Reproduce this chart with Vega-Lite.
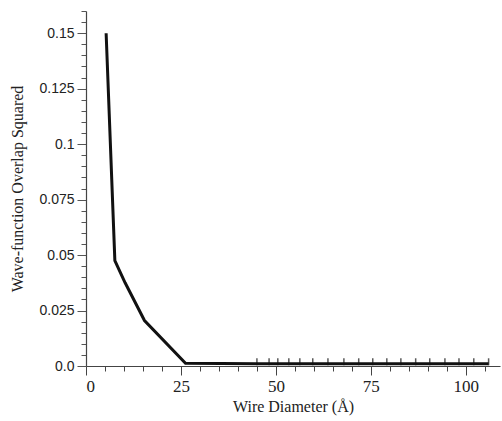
{
  "$schema": "https://vega.github.io/schema/vega-lite/v6.json",
  "autosize": "none",
  "width": 414,
  "height": 355,
  "padding": {"left": 86, "top": 11, "right": 2, "bottom": 55},
  "background": "white",
  "config": {"view": {"stroke": null}},
  "data": {"values": [
    {"x": 5.3, "y": 0.150},
    {"x": 7.6, "y": 0.0475},
    {"x": 10.3, "y": 0.0375},
    {"x": 15.4, "y": 0.0205},
    {"x": 26.2, "y": 0.0012},
    {"x": 45.0, "y": 0.0010},
    {"x": 48.2, "y": 0.0010},
    {"x": 50.5, "y": 0.0010},
    {"x": 53.4, "y": 0.0010},
    {"x": 56.3, "y": 0.0010},
    {"x": 59.7, "y": 0.0010},
    {"x": 63.7, "y": 0.0010},
    {"x": 67.9, "y": 0.0010},
    {"x": 71.8, "y": 0.0010},
    {"x": 75.5, "y": 0.0010},
    {"x": 79.2, "y": 0.0010},
    {"x": 82.9, "y": 0.0010},
    {"x": 86.8, "y": 0.0010},
    {"x": 90.5, "y": 0.0010},
    {"x": 94.5, "y": 0.0010},
    {"x": 98.2, "y": 0.0010},
    {"x": 102.1, "y": 0.0010},
    {"x": 106.0, "y": 0.0010}
  ]},
  "encoding": {
    "x": {
      "field": "x", "type": "quantitative",
      "scale": {"domain": [0, 109], "nice": false, "zero": false},
      "axis": {
        "title": "Wire Diameter (Å)",
        "titleFont": "Liberation Serif", "titleFontSize": 16, "titleFontWeight": "normal", "titleColor": "#222",
        "titlePadding": 4,
        "values": [0,5,10,15,20,25,30,35,40,45,50,55,60,65,70,75,80,85,90,95,100,105],
        "labelExpr": "datum.value % 25 === 0 ? datum.label : ''",
        "labelFont": "Liberation Serif", "labelFontSize": 17, "labelColor": "#222",
        "labelPadding": 3,
        "tickSize": {"condition": {"test": "datum.value % 25 === 0", "value": 9}, "value": 5},
        "tickColor": "#444", "tickWidth": 1,
        "domainColor": "#444", "domainWidth": 1.2,
        "grid": false
      }
    },
    "y": {
      "field": "y", "type": "quantitative",
      "scale": {"domain": [0, 0.16], "nice": false, "zero": false},
      "axis": {
        "title": "Wave-function Overlap Squared",
        "titleFont": "Liberation Serif", "titleFontSize": 16, "titleFontWeight": "normal", "titleColor": "#222",
        "titlePadding": 13,
        "values": [0,0.005,0.01,0.015,0.02,0.025,0.03,0.035,0.04,0.045,0.05,0.055,0.06,0.065,0.07,0.075,0.08,0.085,0.09,0.095,0.1,0.105,0.11,0.115,0.12,0.125,0.13,0.135,0.14,0.145,0.15,0.155,0.16],
        "format": ".3~f",
        "labelExpr": "abs(datum.value*40 - round(datum.value*40)) < 1e-6 ? (datum.value === 0 ? '0.0' : datum.label) : ''",
        "labelFont": "Liberation Sans", "labelFontSize": 14, "labelColor": "#222",
        "labelPadding": 3,
        "tickSize": {"condition": {"test": "abs(datum.value*40 - round(datum.value*40)) < 1e-6", "value": 9}, "value": 5},
        "tickColor": "#555", "tickWidth": 1,
        "domainColor": "#444", "domainWidth": 1.2,
        "grid": false
      }
    }
  },
  "layer": [
    {"mark": {"type": "line", "color": "#111", "strokeWidth": 3, "strokeJoin": "miter"}},
    {
      "transform": [{"filter": "datum.x >= 44"}],
      "mark": {"type": "tick", "orient": "vertical", "color": "#111", "size": 7, "thickness": 1.5, "yOffset": -2}
    }
  ]
}
